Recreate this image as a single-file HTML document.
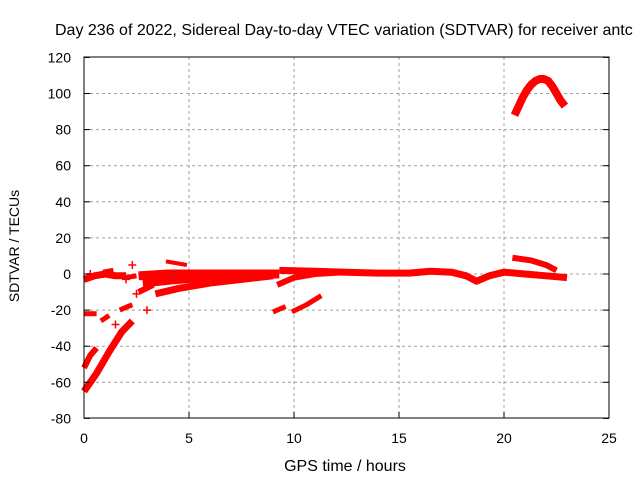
<!DOCTYPE html>
<html><head><meta charset="utf-8"><style>
body{margin:0;background:#fff;overflow:hidden}
svg{font-family:"Liberation Sans",sans-serif;font-size:14px}
.big{font-size:16px}
</style></head><body>
<svg id="chart" width="640" height="480">
<text class="big" x="55" y="35">Day 236 of 2022, Sidereal Day-to-day VTEC variation (SDTVAR) for receiver antc</text>
<g id="grid"></g>
<g id="series"></g>
<rect x="84" y="57" width="525" height="361" fill="none" stroke="#000" stroke-width="1"/>
<g id="ticks"></g>
<text class="big" x="345" y="471" text-anchor="middle">GPS time / hours</text>
<text transform="translate(19,246) rotate(-90)" text-anchor="middle">SDTVAR / TECUs</text>
</svg>
<script>
const xTicks=[0,5,10,15,20,25];
const yTicks=[-80,-60,-40,-20,0,20,40,60,80,100,120];
const segHours=[
[20.5,20.7,20.9,21.1,21.3,21.5,21.7,21.9,22.1,22.3,22.5,22.7,22.9],
[9.3,11,12.5,14,15.5,16.5,17.5,18.2,18.7,19.3,20,21,22,23],
[20.4,21.3,22,22.5],
[2.6,4,5.5,7,8.5,9.3],
[2.8,4,5.5,7,8.5,9.2],
[3.4,4.5,6,7.5,9],
[3.9,4.9],
[9.2,10,11,12.4],
[9.0,9.6],
[9.9,10.6,11.3],
[0,0.6,1.2,1.8,2.3],
[0,0.3,0.6],
[0,0.6],
[0,0.5,1,1.5,2],
[0.8,1.2],[1.7,2.3],[2.6,3.3],[0.9,1.4],[2.0,2.5]
];
const segValues=[
[88,93,98,102,105,107,108,108,107,104,100,96,93],
[2,1.5,1,0.5,0.5,1.5,1,-1,-4,-1,1,0,-1,-2],
[9,7.5,5,2],
[-1,0,0,0,0,0],
[-5,-3.5,-2,-1,0,0],
[-11,-8,-5,-3,-1],
[7,5],
[-6,-2,0,1],
[-21,-18],
[-21,-17,-12],
[-65,-55,-43,-32,-26],
[-52,-45,-41],
[-22,-22],
[-3,-1,0,-1,-1],
[-26,-23],[-20,-17],[-10,-6],[1,2],[-2,-1]
];
const segWidth=[8,7,6,9,9,7,4,6,5,5,7,6,5,7,5,5,6,5,5];
const markerHours=[2.3,2.0,0.3,2.5,1.5,3.0];
const markerValues=[5,-3,0,-11,-28,-20];
const xs=h=>84+h*21, ys=v=>274-v*1.805;
const NS="http://www.w3.org/2000/svg";
const grid=document.getElementById('grid'),ticks=document.getElementById('ticks'),ser=document.getElementById('series');
function mk(t,a,p){const e=document.createElementNS(NS,t);for(const k in a)e.setAttribute(k,a[k]);p.appendChild(e);return e;}
xTicks.forEach(t=>{const x=xs(t);
 if(t>0&&t<25){const g=mk('line',{x1:x,x2:x,y1:57,y2:418,stroke:'#a0a0a0','stroke-dasharray':'3,3'},grid);
 
 }
 const l=mk('line',{x1:x,x2:x,y1:418,y2:412,stroke:'#000'},ticks);
 
 
 const tx=mk('text',{x:x,y:443,'text-anchor':'middle'},ticks);tx.textContent=t;
 
 
});
yTicks.forEach(t=>{const y=ys(t);
 if(t>-80&&t<120){const g=mk('line',{x1:84,x2:609,y1:y,y2:y,stroke:'#a0a0a0','stroke-dasharray':'3,3'},grid);
 
 }
 const l=mk('line',{x1:84,x2:90,y1:y,y2:y,stroke:'#000'},ticks);
 
 
 const l2=mk('line',{x1:603,x2:609,y1:y,y2:y,stroke:'#000'},ticks);
 
 
 const tx=mk('text',{x:71,y:y+5,'text-anchor':'end'},ticks);tx.textContent=t;
 
 
});
segHours.forEach((hs,i)=>{
 const pts=hs.map((h,j)=>xs(h)+','+ys(segValues[i][j])).join(' ');
 const p=mk('polyline',{points:pts,fill:'none',stroke:'#ff0000','stroke-width':segWidth[i],'stroke-linejoin':'round'},ser);
 
 
});
markerHours.forEach((h,i)=>{const x=xs(h),y=ys(markerValues[i]);
 const p=mk('path',{d:`M${x-4},${y}H${x+4}M${x},${y-4}V${y+4}`,stroke:'#ff0000','stroke-width':1.5},ser);
 
 
});
</script>
</body></html>
